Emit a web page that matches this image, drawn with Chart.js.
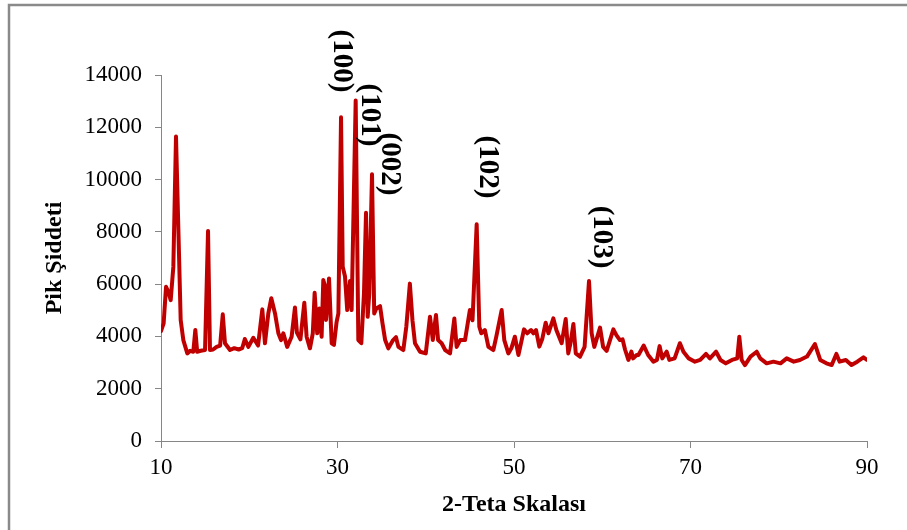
<!DOCTYPE html>
<html>
<head>
<meta charset="utf-8">
<title>Pik Şiddeti - 2-Teta Skalası</title>
<script src="https://cdn.jsdelivr.net/npm/chart.js@4.4.1/dist/chart.umd.min.js"></script>
<style>
  html, body { margin: 0; padding: 0; background: #fff; }
  canvas { display: block; }
</style>
</head>
<body>
<canvas id="xrdChart" width="907" height="530"></canvas>
<script>
// 2-theta positions (degrees) and measured peak intensities
const twoTheta = [
  10.0, 10.3, 10.57, 10.83, 11.1, 11.4, 11.7, 11.96, 12.23, 12.53, 12.98, 13.3, 13.66, 13.89, 14.1, 14.5,
  14.99, 15.33, 15.55, 15.9, 16.3, 16.7, 17.0, 17.25, 17.82, 18.3, 18.8, 19.2, 19.5, 19.9, 20.46, 21.0,
  21.48, 21.78, 22.16, 22.5, 22.92, 23.3, 23.6, 23.86, 24.3, 24.8, 25.18, 25.4, 25.8, 26.24, 26.5, 26.88,
  27.2, 27.41, 27.7, 27.94, 28.2, 28.39, 28.6, 28.7, 29.04, 29.34, 29.6, 29.9, 30.1, 30.4, 30.59, 30.85,
  31.1, 31.42, 31.6, 32.06, 32.36, 32.7, 33.0, 33.23, 33.42, 33.6, 33.91, 34.16, 34.4, 34.82, 35.1, 35.4,
  35.76, 36.3, 36.63, 36.9, 37.46, 37.8, 38.2, 38.5, 38.78, 39.35, 40.0, 40.48, 40.8, 41.16, 41.4, 41.8,
  42.2, 42.75, 43.24, 43.5, 43.9, 44.45, 45.0, 45.3, 45.77, 46.07, 46.3, 46.7, 47.1, 47.66, 48.0, 48.6,
  48.9, 49.36, 49.7, 50.1, 50.5, 50.87, 51.13, 51.5, 51.93, 52.2, 52.5, 52.87, 53.2, 53.59, 53.9, 54.46,
  54.8, 55.4, 55.86, 56.15, 56.4, 56.73, 57.0, 57.48, 58.0, 58.5, 58.8, 59.1, 59.75, 60.1, 60.5, 61.26,
  61.6, 62.0, 62.3, 62.58, 62.96, 63.3, 63.5, 63.9, 64.1, 64.7, 65.2, 65.8, 66.2, 66.5, 66.8, 67.3,
  67.6, 68.2, 68.8, 69.2, 69.8, 70.5, 71.1, 71.76, 72.2, 72.9, 73.4, 74.0, 74.7, 75.3, 75.53, 75.8,
  76.17, 76.8, 77.5, 77.9, 78.63, 79.4, 80.2, 80.9, 81.7, 82.4, 83.2, 84.1, 84.7, 85.4, 86.0, 86.53,
  86.9, 87.6, 88.24, 88.9, 89.6, 90.0
];
const intensity = [
  4200, 4500, 5900, 5710, 5390, 6670, 11650, 8200, 4630, 3860, 3350, 3450, 3415, 4245, 3415, 3450,
  3480, 8030, 3480, 3500, 3600, 3650, 4845, 3740, 3480, 3550, 3500, 3550, 3900, 3600, 3950, 3650,
  5035, 3740, 4880, 5460, 4880, 4120, 3860, 4120, 3600, 3990, 5110, 4150, 3890, 5290, 3990, 3545,
  4120, 5670, 4120, 5070, 3990, 6160, 5900, 4630, 6220, 3740, 3680, 4560, 4880, 12380, 6670, 6290,
  5010, 6120, 5010, 13020, 3860, 3740, 5650, 8730, 4750, 5650, 10200, 4880, 5070, 5160, 4500, 3860,
  3545, 3860, 3970, 3600, 3480, 4380, 6020, 4600, 3740, 3415, 3350, 4750, 3860, 4820, 3860, 3740,
  3480, 3350, 4690, 3600, 3860, 3860, 5010, 4620, 8290, 4370, 4120, 4245, 3600, 3480, 4000, 5010,
  3860, 3350, 3545, 3990, 3290, 3860, 4270, 4120, 4245, 4120, 4245, 3610, 3900, 4525, 4120, 4690,
  4245, 3740, 4665, 3350, 3740, 4475, 3350, 3225, 3600, 6120, 4120, 3600, 4335, 3600, 3450, 4270,
  4050, 3860, 3890, 3500, 3100, 3420, 3160, 3290, 3290, 3650, 3290, 3035, 3100, 3630, 3160, 3415,
  3100, 3160, 3740, 3415, 3160, 3035, 3100, 3330, 3160, 3415, 3100, 2970, 3100, 3160, 3990, 3100,
  2905, 3230, 3415, 3160, 2970, 3035, 2970, 3160, 3035, 3100, 3230, 3710, 3100, 2970, 2905, 3330,
  3035, 3100, 2905, 3035, 3200, 3100
];

// axis ticks
const xTicks = [10, 30, 50, 70, 90];
const yTicks = [0, 2000, 4000, 6000, 8000, 10000, 12000, 14000];

// Miller indices written next to the main reflections (anchor in data units)
const peakNames = ['(100)', '(101)', '(002)', '(102)', '(103)'];
const peakLabelX = [30.4, 33.57, 35.84, 46.94, 59.86];
const peakLabelY = [14535, 12470, 10595, 10480, 7800];

const axisGray = '#868686';
const serif = '"Liberation Serif", "Times New Roman", serif';

// grey outline of the chart object
const frame = {
  id: 'frame',
  beforeDraw(chart) {
    const c = chart.ctx;
    c.save();
    c.strokeStyle = '#8a8a8a';
    c.lineWidth = 2.5;
    c.strokeRect(9, 5, chart.width + 20, chart.height + 20);
    c.restore();
  }
};

// rotated hkl labels above the peaks
const peakLabels = {
  id: 'peakLabels',
  afterDatasetsDraw(chart) {
    const { ctx, scales: { x, y } } = chart;
    ctx.save();
    ctx.font = 'bold 29px ' + serif;
    ctx.fillStyle = '#000';
    ctx.textAlign = 'center';
    ctx.textBaseline = 'middle';
    peakNames.forEach(function(t, i) {
      ctx.save();
      ctx.translate(x.getPixelForValue(peakLabelX[i]), y.getPixelForValue(peakLabelY[i]));
      ctx.rotate(Math.PI / 2);
      ctx.fillText(t, 0, 0);
      ctx.restore();
    });
    ctx.restore();
  }
};

const points = twoTheta.map(function(t, i) { return { x: t, y: intensity[i] }; });

const ctx = document.getElementById('xrdChart').getContext('2d');
const xrdChart = new Chart(ctx, {
  type: 'line',
  data: {
    datasets: [{
      data: points,
      borderColor: '#C00000',
      borderWidth: 4,
      borderJoinStyle: 'round',
      borderCapStyle: 'round',
      pointRadius: 0,
      tension: 0,
      fill: false
    }]
  },
  options: {
    responsive: false,
    animation: false,
    events: [],
    layout: { padding: { top: 75, right: 40, left: 0, bottom: 0 } },
    plugins: {
      legend: { display: false },
      tooltip: { enabled: false }
    },
    scales: {
      x: {
        type: 'linear',
        min: 10,
        max: 90,
        afterBuildTicks: function(s) { s.ticks = xTicks.map(function(v) { return { value: v }; }); },
        afterFit: function(s) { s.height = 89; },
        border: { display: true, color: axisGray, width: 1 },
        grid: { drawOnChartArea: false, drawTicks: true, tickLength: 7, color: axisGray },
        ticks: {
          color: '#000',
          padding: 6,
          maxRotation: 0,
          callback: function(v) { return String(v); },
          font: { family: serif, size: 23 }
        },
        title: {
          display: true,
          text: '2-Teta Skalası',
          color: '#000',
          padding: { top: 0, bottom: 11 },
          font: { family: serif, size: 24, weight: 'bold' }
        }
      },
      y: {
        min: 0,
        max: 14000,
        afterBuildTicks: function(s) { s.ticks = yTicks.map(function(v) { return { value: v }; }); },
        afterFit: function(s) { s.width = 161; },
        border: { display: true, color: axisGray, width: 1 },
        grid: { drawOnChartArea: false, drawTicks: true, tickLength: 6, color: axisGray },
        ticks: {
          color: '#000',
          padding: 13,
          callback: function(v) { return String(v); },
          font: { family: serif, size: 23 }
        },
        title: {
          display: true,
          text: 'Pik Şiddeti',
          color: '#000',
          padding: { top: 40, bottom: 0 },
          font: { family: serif, size: 24, weight: 'bold' }
        }
      }
    }
  },
  plugins: [frame, peakLabels]
});
</script>
</body>
</html>
